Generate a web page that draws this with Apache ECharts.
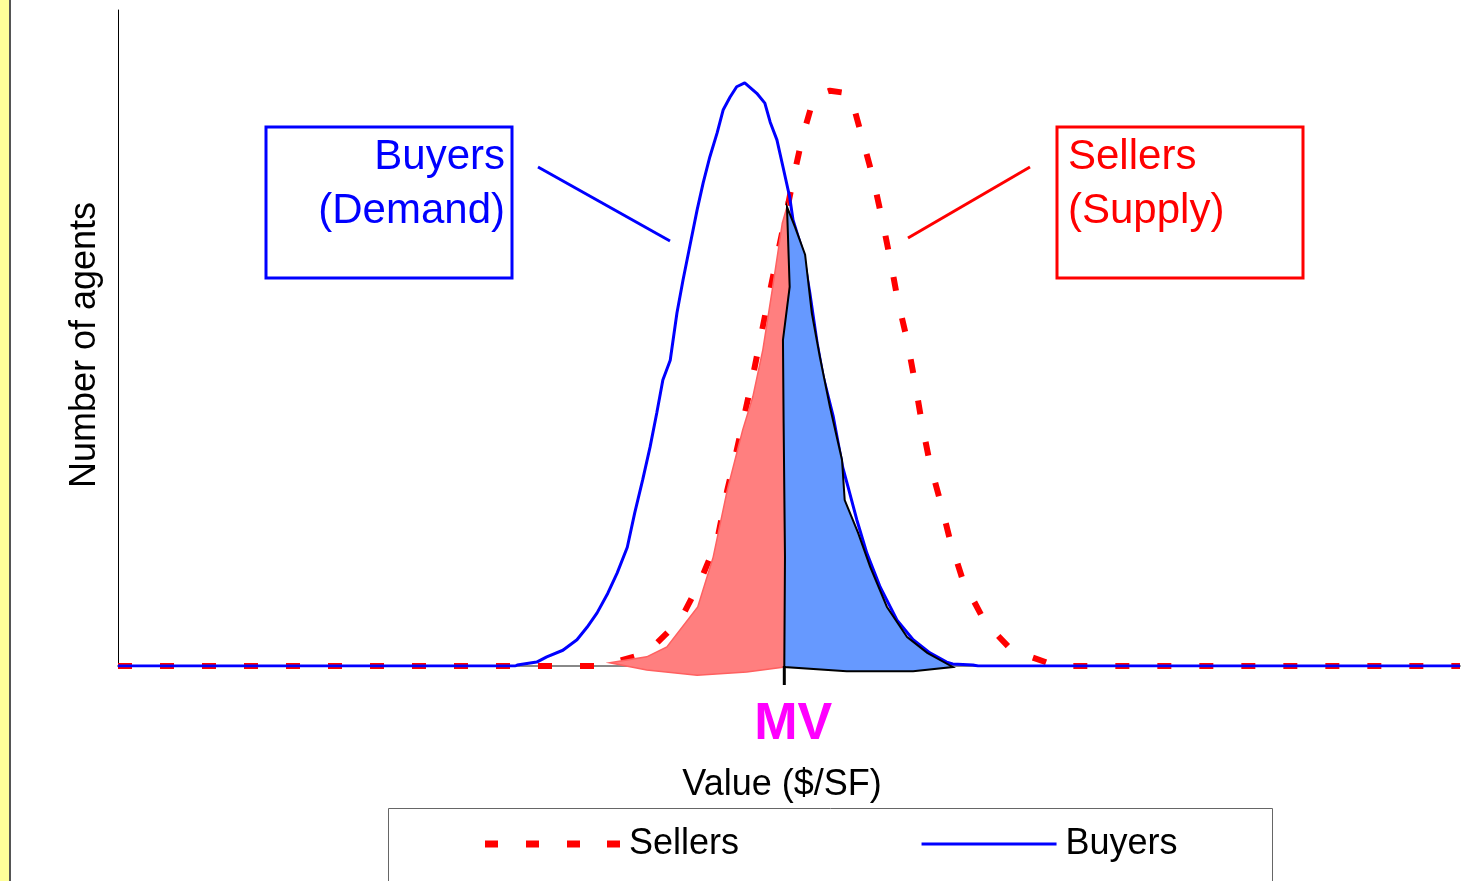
<!DOCTYPE html>
<html>
<head>
<meta charset="utf-8">
<script src="https://cdn.jsdelivr.net/npm/echarts@6/dist/echarts.min.js"></script>
<style>
  html, body { margin: 0; padding: 0; background: #fff; }
  #chart { width: 1483px; height: 881px; }
</style>
</head>
<body>
<div id="chart"></div>
<script>
// ==============================
// data (value in $/SF, number of agents)
// ==============================

const buyersX = [0, 59.2, 59.5, 62.4, 63.9, 66.3, 68.4, 69.9, 71.4, 73.0, 74.4, 75.9, 77.0, 78.2, 79.3, 80.3, 81.2, 82.3, 83.3, 84.2, 85.2, 86.3, 87.2, 88.2, 89.3, 90.2, 91.2, 92.2, 93.4, 95.2, 96.4, 97.2, 98.2, 99.1, 100.1, 100.6, 102.1, 103.1, 104.2, 105.1, 106.6, 108.0, 108.8, 110.1, 111.6, 113.6, 116.1, 118.5, 121.0, 123.5, 124.4, 127.4, 128.2, 200];
const buyersY = [0, 0, 0.15, 0.6, 1.4, 2.4, 4.0, 5.9, 8.1, 11.1, 14.2, 18.1, 23.3, 28.4, 33.4, 38.6, 43.6, 46.6, 53.8, 58.8, 63.9, 69.5, 73.6, 77.6, 81.3, 84.8, 86.7, 88.3, 88.9, 87.3, 85.8, 82.9, 80.2, 76.1, 71.5, 68.0, 63.0, 56.9, 49.2, 44.1, 38.0, 30.3, 27.3, 22.3, 17.2, 12.0, 7.0, 4.0, 2.0, 0.6, 0.3, 0.15, 0, 0];

const sellersX = [0, 71.8, 72.3, 74.8, 78.8, 81.5, 83.8, 86.7, 89.3, 90.8, 92.0, 93.1, 94.6, 95.7, 96.9, 98.2, 99.7, 100.6, 101.9, 103.6, 104.9, 106.1, 108.8, 109.5, 111.0, 112.5, 113.9, 115.1, 116.2, 117.6, 118.8, 119.8, 121.0, 122.5, 124.0, 125.9, 129.2, 133.2, 138.5, 139.6, 200];
const sellersY = [0, 0, 0.4, 0.8, 2.0, 4.7, 7.0, 12.7, 19.2, 26.8, 31.9, 37.0, 44.1, 49.7, 55.8, 62.3, 69.5, 74.1, 80.2, 86.3, 87.3, 87.7, 87.3, 85.8, 80.2, 74.5, 68.0, 61.9, 55.8, 49.7, 43.1, 37.0, 30.9, 25.3, 19.2, 13.1, 6.7, 2.4, 0.5, 0, 0];

// sellers below MV (red) and buyers above MV (blue)
const sellerShadeX = [73.3, 78.8, 81.8, 86.4, 88.7, 90.8, 93.1, 94.6, 96.1, 97.5, 99.0, 99.7, 100.1, 99.1, 99.2, 99.4, 99.3, 93.7, 86.3, 78.8];
const sellerShadeY = [0.5, 1.4, 2.9, 9.0, 16.6, 26.8, 36.0, 41.0, 48.2, 57.3, 67.5, 70.0, 57.8, 49.7, 37.0, 16.6, -0.15, -0.9, -1.4, -0.6];

const buyerShadeX = [99.7, 100.9, 102.4, 103.4, 104.6, 106.1, 107.9, 108.3, 110.3, 112.1, 114.6, 117.6, 120.6, 124.4, 118.5, 108.6, 99.3, 99.4, 99.2, 99.1, 100.1];
const buyerShadeY = [70.0, 66.9, 62.7, 53.8, 47.1, 39.5, 31.4, 25.3, 20.3, 15.1, 9.0, 4.4, 2.0, -0.15, -0.8, -0.8, -0.15, 16.6, 37.0, 49.7, 57.8];

const marketValue = 99.3;

const zip = (xs, ys) => xs.map((x, i) => [x, ys[i]]);

const FONT = '"Liberation Sans", Arial, sans-serif';

// dashed legend icon: 4 dashes 13px wide, 42px apart
const DASH_ICON = 'path://M0,0h13v7h-13z M41,0h13v7h-13z M82,0h13v7h-13z M122,0h13v7h-13z';

// ==============================
// chart
// ==============================

const chart = echarts.init(document.getElementById('chart'));

function shadeSeries(name, points, fill, stroke, strokeWidth) {
  return {
    name: name,
    type: 'custom',
    data: points,
    z: 3,
    silent: true,
    renderItem: function (params, api) {
      if (params.dataIndex !== 0) return null;
      return {
        type: 'polygon',
        shape: { points: points.map(p => api.coord(p)) },
        style: { fill: fill, stroke: stroke, lineWidth: strokeWidth }
      };
    }
  };
}

chart.setOption({
  animation: false,
  grid: { left: 118, right: 23, top: 10, bottom: 215 },
  legend: {
    data: [
      { name: 'Sellers', icon: DASH_ICON, itemStyle: { color: '#FF0000' } },
      { name: 'Buyers', itemStyle: { opacity: 0 }, lineStyle: { color: '#0000FF', width: 3 } }
    ],
    left: 480,
    top: 821,
    itemWidth: 135,
    itemHeight: 7,
    itemGap: 181,
    textStyle: { fontSize: 36, color: '#000', fontFamily: FONT, padding: [0, 0, 0, 4] }
  },
  xAxis: {
    type: 'value',
    min: 0,
    max: 200,
    name: 'Value ($/SF)',
    nameLocation: 'middle',
    nameGap: 101,
    nameTextStyle: { fontSize: 36, color: '#000', fontFamily: FONT, padding: [0, 14, 0, 0] },
    axisLine: { lineStyle: { color: '#888', width: 2 } },
    axisTick: { show: false },
    axisLabel: { show: false },
    splitLine: { show: false }
  },
  yAxis: {
    type: 'value',
    min: 0,
    max: 100,
    name: 'Number of agents',
    nameLocation: 'middle',
    nameGap: 15,
    nameTextStyle: { fontSize: 36, color: '#000', fontFamily: FONT, padding: [0, 14, 0, 0] },
    axisLine: { show: true, lineStyle: { color: '#000', width: 1 } },
    axisTick: { show: false },
    axisLabel: { show: false },
    splitLine: { show: false }
  },
  series: [
    {
      name: 'Sellers',
      type: 'line',
      data: zip(sellersX, sellersY),
      symbol: 'none',
      z: 2,
      lineStyle: { color: '#FF0000', width: 6, type: [14, 28] },
      itemStyle: { color: '#FF0000' }
    },
    {
      name: 'Buyers',
      type: 'line',
      data: zip(buyersX, buyersY),
      symbol: 'none',
      z: 2,
      lineStyle: { color: '#0000FF', width: 3 },
      itemStyle: { color: '#0000FF' }
    },
    shadeSeries('sellerShade', zip(sellerShadeX, sellerShadeY), '#FF7F7F', '#FF6060', 1.5),
    shadeSeries('buyerShade', zip(buyerShadeX, buyerShadeY), '#6699FF', '#000', 2),
    {
      name: 'MV',
      type: 'custom',
      data: [[marketValue, 0]],
      z: 4,
      silent: true,
      renderItem: function (params, api) {
        const p = api.coord([api.value(0), api.value(1)]);
        return {
          type: 'group',
          children: [
            { type: 'line', shape: { x1: p[0], y1: p[1], x2: p[0], y2: p[1] + 19 }, style: { stroke: '#000', lineWidth: 3 } },
            {
              type: 'text',
              x: p[0] + 9, y: p[1] + 59,
              style: { text: 'MV', fill: '#FF00FF', font: 'bold 52px ' + FONT, align: 'center', verticalAlign: 'middle' }
            }
          ]
        };
      }
    }
  ],
  graphic: [
    // yellow strip on the left
    { type: 'rect', left: 0, top: 0, shape: { width: 9, height: 881 }, style: { fill: '#FFFF99' } },
    { type: 'rect', left: 9, top: 0, shape: { width: 2, height: 881 }, style: { fill: '#555' } },
    // buyers box
    { type: 'rect', shape: { x: 266, y: 127, width: 246, height: 151 }, style: { fill: 'none', stroke: '#0000FF', lineWidth: 3 } },
    { type: 'text', x: 505, y: 130, style: { text: 'Buyers\n(Demand)', fill: '#0000FF', font: '42px ' + FONT, align: 'right', verticalAlign: 'top', lineHeight: 54 } },
    { type: 'line', shape: { x1: 538, y1: 167, x2: 670, y2: 241 }, style: { stroke: '#0000FF', lineWidth: 3 } },
    // sellers box
    { type: 'rect', shape: { x: 1057, y: 127, width: 246, height: 151 }, style: { fill: 'none', stroke: '#FF0000', lineWidth: 3 } },
    { type: 'text', x: 1068, y: 130, style: { text: 'Sellers\n(Supply)', fill: '#FF0000', font: '42px ' + FONT, align: 'left', verticalAlign: 'top', lineHeight: 54 } },
    { type: 'line', shape: { x1: 1030, y1: 167, x2: 908, y2: 238 }, style: { stroke: '#FF0000', lineWidth: 3 } },
    // legend frame
    { type: 'rect', shape: { x: 388.5, y: 808.5, width: 884, height: 100 }, style: { fill: 'none', stroke: '#666', lineWidth: 1 } }
  ]
});

window.addEventListener('resize', () => chart.resize());
</script>
</body>
</html>
